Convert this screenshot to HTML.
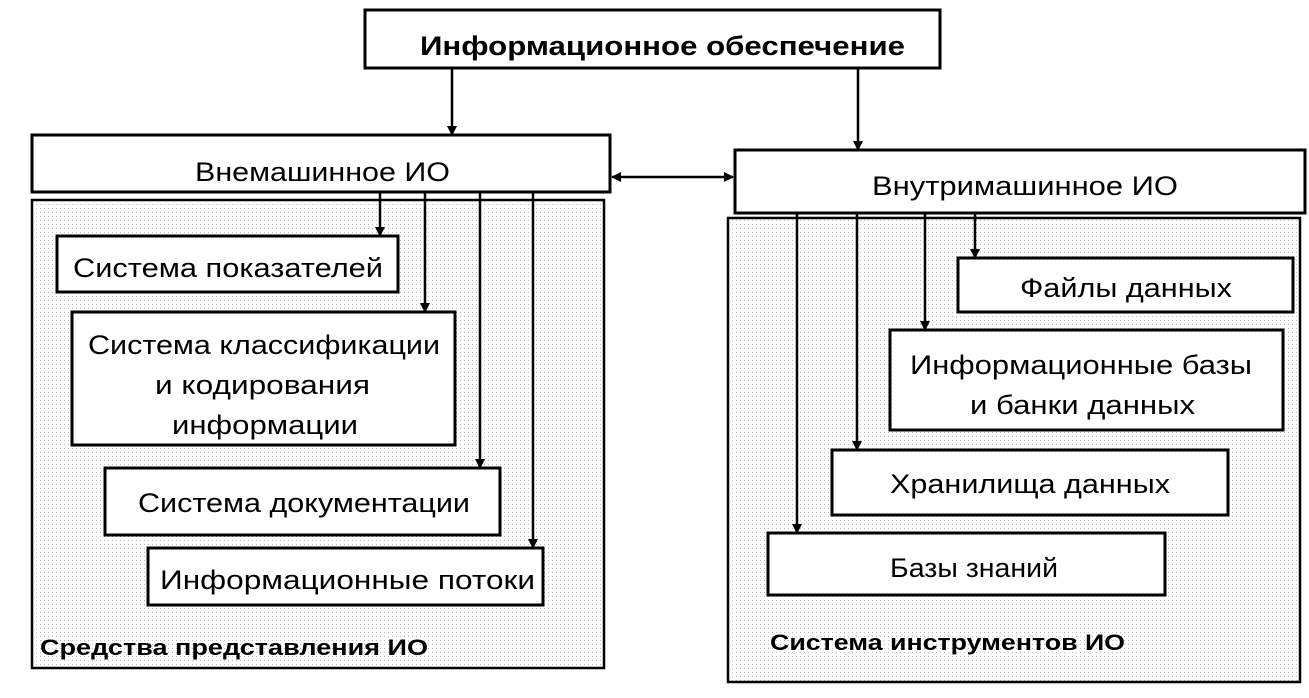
<!DOCTYPE html>
<html><head><meta charset="utf-8"><style>
html,body{margin:0;padding:0;background:#fff;}
svg{display:block;}
text{font-family:"Liberation Sans","DejaVu Sans",sans-serif;fill:#000;}
</style></head><body>
<svg width="1309" height="698" viewBox="0 0 1309 698" xmlns="http://www.w3.org/2000/svg">
<defs>
<marker id="a" markerWidth="10" markerHeight="14" refX="9" refY="7" orient="auto" markerUnits="userSpaceOnUse">
<path d="M0,2 L10,7 L0,12 Z" fill="#000"/></marker>
<marker id="as" markerWidth="10" markerHeight="14" refX="1" refY="7" orient="auto" markerUnits="userSpaceOnUse">
<path d="M10,2 L0,7 L10,12 Z" fill="#000"/></marker>
<pattern id="dots" width="4" height="4" patternUnits="userSpaceOnUse"><rect width="1" height="1" fill="#bbb"/></pattern>
</defs>
<g fill="none" stroke="#000" stroke-width="3">
<rect x="365" y="10" width="575" height="58" fill="#fff"/>
<rect x="32" y="200" width="572" height="468" fill="url(#dots)" stroke-width="2.5"/>
<rect x="728" y="218" width="572" height="464" fill="url(#dots)" stroke-width="2.5"/>
<rect x="32" y="135" width="578" height="57" fill="#fff"/>
<rect x="735" y="150" width="570" height="63" fill="#fff"/>
<rect x="57" y="236" width="341" height="56" fill="#fff"/>
<rect x="72" y="312" width="383" height="133" fill="#fff"/>
<rect x="105" y="468" width="395" height="67" fill="#fff"/>
<rect x="148" y="548" width="395" height="57" fill="#fff"/>
<rect x="958" y="258" width="335" height="54" fill="#fff"/>
<rect x="890" y="330" width="393" height="100" fill="#fff"/>
<rect x="832" y="450" width="396" height="65" fill="#fff"/>
<rect x="768" y="533" width="397" height="62" fill="#fff"/>
</g>
<g stroke="#000" stroke-width="2.5" fill="none">
<line x1="452" y1="68" x2="452" y2="135" marker-end="url(#a)"/>
<line x1="858" y1="68" x2="858" y2="150" marker-end="url(#a)"/>
<line x1="612" y1="177" x2="733" y2="177" marker-end="url(#a)" marker-start="url(#as)"/>
<line x1="380" y1="192" x2="380" y2="236" marker-end="url(#a)"/>
<line x1="425" y1="192" x2="425" y2="312" marker-end="url(#a)"/>
<line x1="480" y1="192" x2="480" y2="468" marker-end="url(#a)"/>
<line x1="533" y1="192" x2="533" y2="548" marker-end="url(#a)"/>
<line x1="797" y1="213" x2="797" y2="533" marker-end="url(#a)"/>
<line x1="857" y1="213" x2="857" y2="450" marker-end="url(#a)"/>
<line x1="925" y1="213" x2="925" y2="330" marker-end="url(#a)"/>
<line x1="975" y1="213" x2="975" y2="258" marker-end="url(#a)"/>
</g>
<g font-size="27">
<text x="420" y="55" font-weight="bold" textLength="485" lengthAdjust="spacingAndGlyphs">Информационное обеспечение</text>
<text x="195" y="181" textLength="255" lengthAdjust="spacingAndGlyphs">Внемашинное ИО</text>
<text x="872" y="195" textLength="306" lengthAdjust="spacingAndGlyphs">Внутримашинное ИО</text>
<text x="73" y="277" textLength="310" lengthAdjust="spacingAndGlyphs">Система показателей</text>
<text x="88" y="354" textLength="352" lengthAdjust="spacingAndGlyphs">Система классификации</text>
<text x="155" y="394" textLength="215" lengthAdjust="spacingAndGlyphs">и кодирования</text>
<text x="172" y="434" textLength="186" lengthAdjust="spacingAndGlyphs">информации</text>
<text x="138" y="512" textLength="332" lengthAdjust="spacingAndGlyphs">Система документации</text>
<text x="160" y="589" textLength="375" lengthAdjust="spacingAndGlyphs">Информационные потоки</text>
<text x="1020" y="297" textLength="212" lengthAdjust="spacingAndGlyphs">Файлы данных</text>
<text x="910" y="374" textLength="342" lengthAdjust="spacingAndGlyphs">Информационные базы</text>
<text x="970" y="414" textLength="225" lengthAdjust="spacingAndGlyphs">и банки данных</text>
<text x="890" y="493" textLength="280" lengthAdjust="spacingAndGlyphs">Хранилища данных</text>
<text x="890" y="577" textLength="168" lengthAdjust="spacingAndGlyphs">Базы знаний</text>
</g>
<g font-size="22" font-weight="bold">
<text x="40" y="655" textLength="388" lengthAdjust="spacingAndGlyphs">Средства представления ИО</text>
<text x="770" y="650" textLength="355" lengthAdjust="spacingAndGlyphs">Система инструментов ИО</text>
</g>
</svg>
</body></html>
